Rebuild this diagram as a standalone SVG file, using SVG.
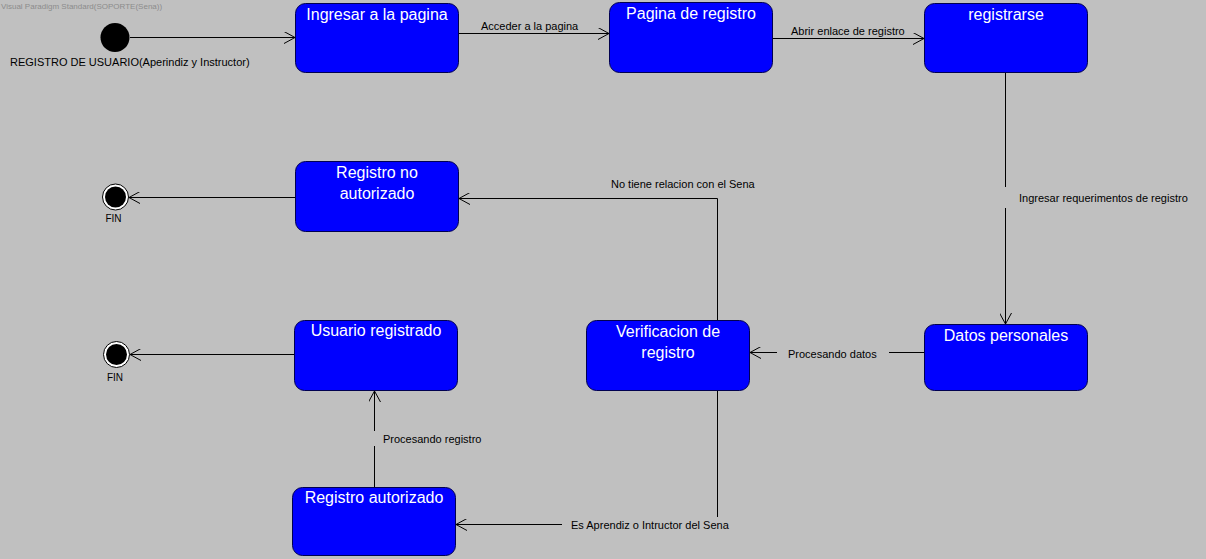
<svg xmlns="http://www.w3.org/2000/svg" width="1206" height="559" viewBox="0 0 1206 559">
<defs>
<marker id="arr" markerWidth="12" markerHeight="12" refX="11" refY="6" orient="auto" markerUnits="userSpaceOnUse">
<path d="M0,0 L11,6 L0,12" fill="none" stroke="#000" stroke-width="1"/>
</marker>
</defs>
<style>
.st{fill:#0000ff;stroke:#000050;stroke-width:1}
.nt{font-family:"Liberation Sans",Arial,sans-serif;font-size:16px;fill:#ffffff;text-anchor:middle}
.lb{font-family:"Liberation Sans",Arial,sans-serif;font-size:11px;fill:#000}
.ln{fill:none;stroke:#000;stroke-width:1}
.ar{fill:none;stroke:#000;stroke-width:1;marker-end:url(#arr)}
</style>
<rect x="0" y="0" width="1206" height="559" fill="#c0c0c0"/>
<text x="1" y="9" font-family="Liberation Sans,Arial,sans-serif" font-size="8" fill="#8c8c8c">Visual Paradigm Standard(SOPORTE(Sena))</text>

<g id="connectors">
<line class="ar" x1="130" y1="37.5" x2="295" y2="37.5"/>
<line class="ar" x1="459" y1="33.5" x2="609" y2="33.5"/>
<text class="lb" x="481" y="30">Acceder a la pagina</text>
<line class="ar" x1="772" y1="38.5" x2="924" y2="38.5"/>
<text class="lb" x="791" y="35">Abrir enlace de registro</text>
<line class="ln" x1="1005.5" y1="72" x2="1005.5" y2="187"/>
<line class="ar" x1="1005.5" y1="208" x2="1005.5" y2="324"/>
<text class="lb" x="1019" y="202">Ingresar requerimentos de registro</text>
<line class="ln" x1="924" y1="352.5" x2="889" y2="352.5"/>
<line class="ar" x1="777" y1="352.5" x2="750" y2="352.5"/>
<text class="lb" x="788" y="358">Procesando datos</text>
<polyline class="ar" points="717.5,320 717.5,198.5 459,198.5"/>
<text class="lb" x="611" y="188">No tiene relacion con el Sena</text>
<line class="ln" x1="717.5" y1="391" x2="717.5" y2="517"/>
<line class="ar" x1="562" y1="524.5" x2="456" y2="524.5"/>
<text class="lb" x="571" y="529">Es Aprendiz o Intructor del Sena</text>
<line class="ln" x1="374.5" y1="487" x2="374.5" y2="446"/>
<line class="ar" x1="374.5" y1="431" x2="374.5" y2="391"/>
<text class="lb" x="383" y="443">Procesando registro</text>
<line class="ar" x1="295" y1="197.5" x2="129" y2="197.5"/>
<line class="ar" x1="294" y1="354.5" x2="130" y2="354.5"/>
</g>

<g id="start">
<circle cx="115" cy="37.5" r="14.5" fill="#000"/>
<text class="lb" x="10" y="66">REGISTRO DE USUARIO(Aperindiz y Instructor)</text>
</g>
<g id="fin1">
<circle cx="115.5" cy="197" r="13" fill="#fff" stroke="#000" stroke-width="1"/>
<circle cx="115.5" cy="197" r="10.5" fill="#000"/>
<text x="113.5" y="222" font-family="Liberation Sans,Arial,sans-serif" font-size="10" text-anchor="middle">FIN</text>
</g>
<g id="fin2">
<circle cx="116.5" cy="354.5" r="13" fill="#fff" stroke="#000" stroke-width="1"/>
<circle cx="116.5" cy="354.5" r="10.5" fill="#000"/>
<text x="115" y="381" font-family="Liberation Sans,Arial,sans-serif" font-size="10" text-anchor="middle">FIN</text>
</g>

<g id="ingresar">
<rect class="st" x="295.5" y="3.5" width="163" height="69" rx="10"/>
<text class="nt" x="377" y="20">Ingresar a la pagina</text>
</g>
<g id="pagina">
<rect class="st" x="609.5" y="2.5" width="163" height="70" rx="10"/>
<text class="nt" x="691" y="19">Pagina de registro</text>
</g>
<g id="registrarse">
<rect class="st" x="924.5" y="3.5" width="163" height="69" rx="10"/>
<text class="nt" x="1006" y="20">registrarse</text>
</g>
<g id="noautorizado">
<rect class="st" x="295.5" y="161.5" width="163" height="70" rx="10"/>
<text class="nt" x="377" y="178">Registro no</text>
<text class="nt" x="377" y="199">autorizado</text>
</g>
<g id="verificacion">
<rect class="st" x="586.5" y="320.5" width="163" height="70" rx="10"/>
<text class="nt" x="668" y="337">Verificacion de</text>
<text class="nt" x="668" y="358">registro</text>
</g>
<g id="datos">
<rect class="st" x="924.5" y="324.5" width="163" height="66" rx="10"/>
<text class="nt" x="1006" y="341">Datos personales</text>
</g>
<g id="usuario">
<rect class="st" x="294.5" y="320.5" width="163" height="70" rx="10"/>
<text class="nt" x="376" y="336">Usuario registrado</text>
</g>
<g id="autorizado">
<rect class="st" x="292.5" y="487.5" width="163" height="68" rx="10"/>
<text class="nt" x="374" y="503">Registro autorizado</text>
</g>
</svg>
